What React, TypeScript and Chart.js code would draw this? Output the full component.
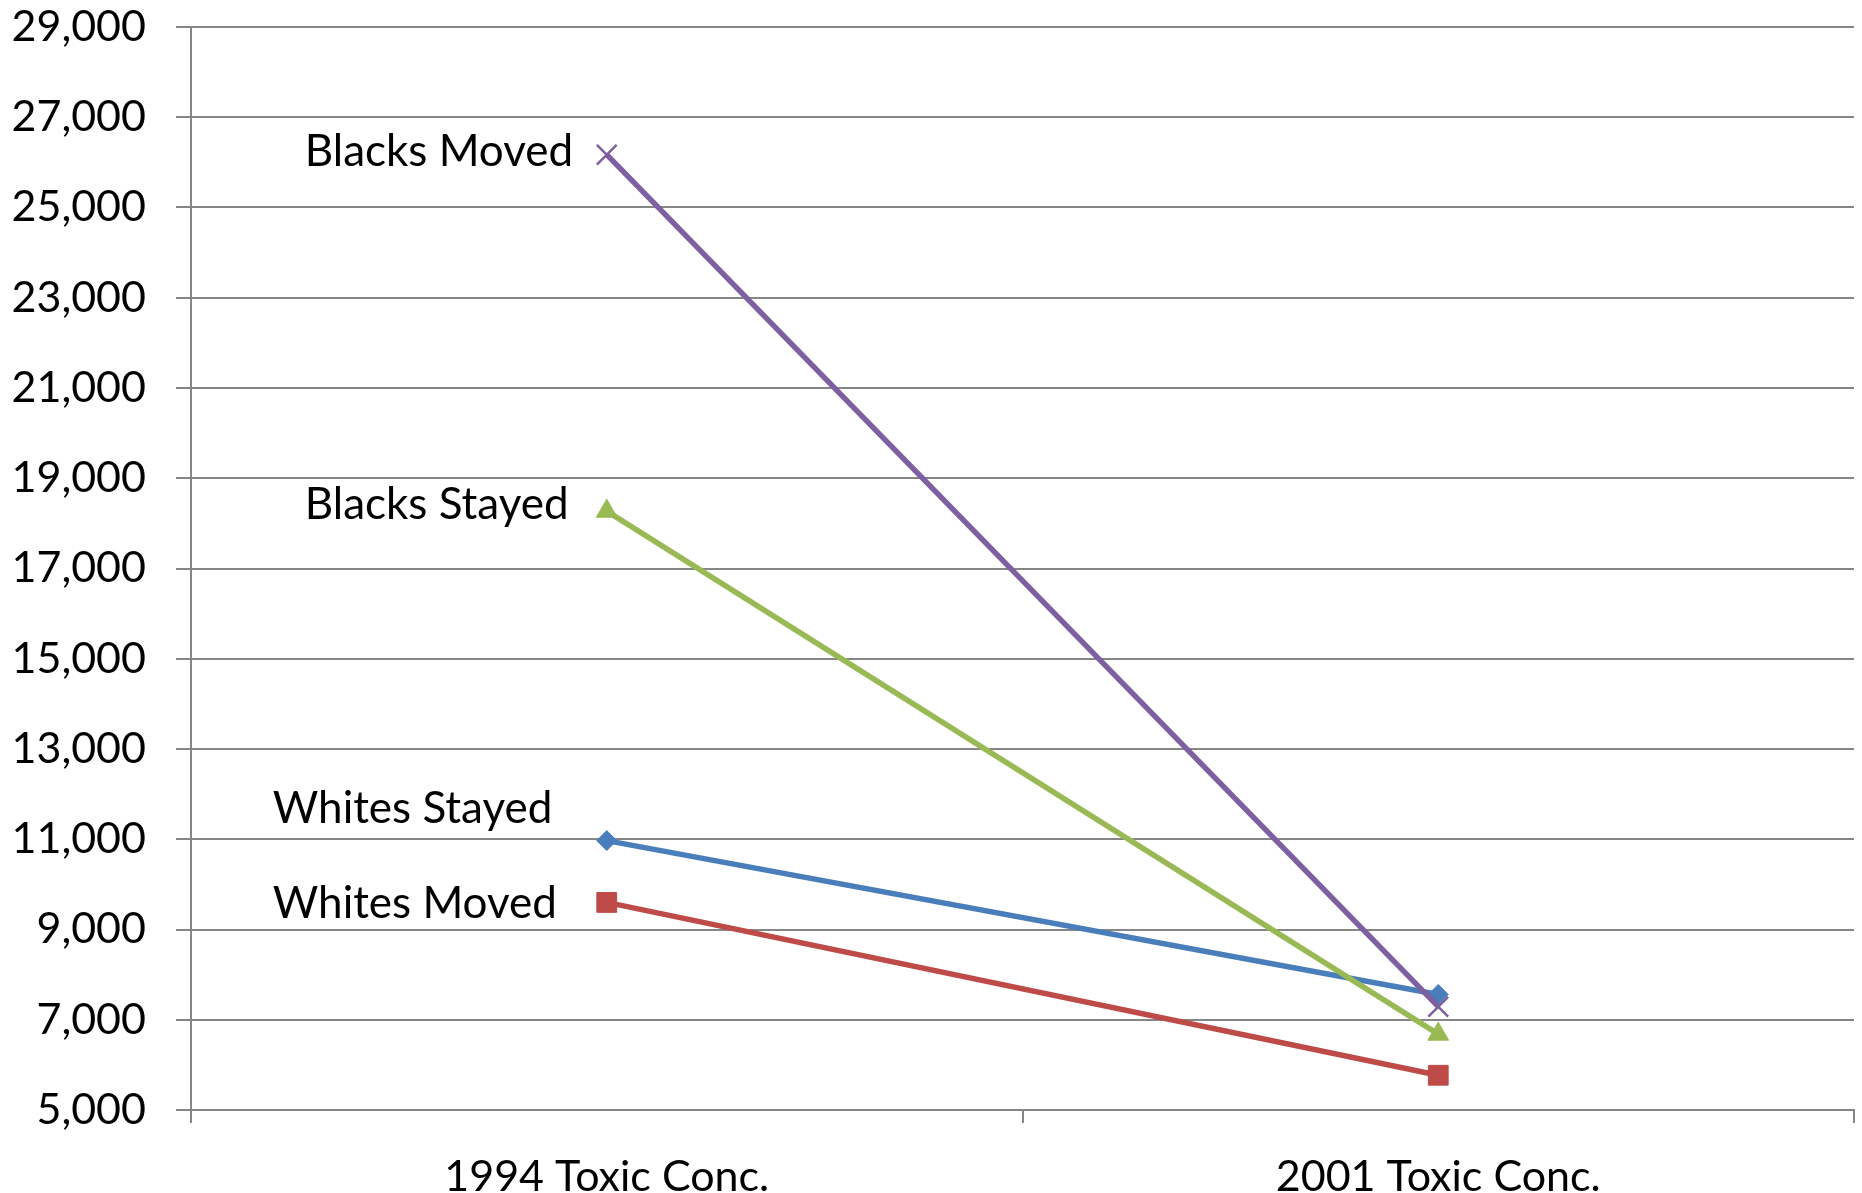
import React, { useEffect, useRef } from "react";
import { Chart, registerables } from "chart.js";

Chart.register(...registerables);

const categories = ["1994 Toxic Conc.", "2001 Toxic Conc."];
const seriesNames = ["Whites Stayed", "Whites Moved", "Blacks Stayed", "Blacks Moved"];
const whitesStayed = [10970, 7560];
const whitesMoved = [9600, 5770];
const blacksStayed = [18270, 6680];
const blacksMoved = [26170, 7290];
const yMin = 5000;
const yMax = 29000;
const yStep = 2000;

const FONT = "Lato";
const GRID = "#868686";

// styling (not data)
const colors = ["#4A7EBB", "#BE4B48", "#98B954", "#7D60A0"];
const markers = ["rectRot", "rect", "triangle", "crossRot"];
const markerRadius = [10, 14, 12, 14];
const drawOrder = [3, 2, 1, 0];
const labelOffsets = [
  { dx: -334, dy: -18 },
  { dx: -334, dy: 16 },
  { dx: -302, dy: 8 },
  { dx: -302, dy: 11 },
];

const seriesLabelPlugin = {
  id: "seriesLabels",
  afterDatasetsDraw(chart: any) {
    const ctx = chart.ctx;
    ctx.save();
    ctx.font = `44px ${FONT}`;
    ctx.fillStyle = "#000";
    ctx.textAlign = "left";
    ctx.textBaseline = "alphabetic";
    chart.data.datasets.forEach((ds: any, i: number) => {
      const meta = chart.getDatasetMeta(i);
      const pt = meta.data[0];
      if (!pt) return;
      const off = labelOffsets[i];
      ctx.fillText(ds.label, pt.x + off.dx, pt.y + off.dy);
    });
    ctx.restore();
  },
};

export default function App() {
  const ref = useRef<HTMLCanvasElement>(null);
  useEffect(() => {
    document.body.style.margin = "0";
    const values = [whitesStayed, whitesMoved, blacksStayed, blacksMoved];
    const chart = new Chart(ref.current as HTMLCanvasElement, {
      type: "line",
      data: {
        labels: categories,
        datasets: seriesNames.map((name, i) => ({
          label: name,
          data: values[i],
          borderColor: colors[i],
          backgroundColor: colors[i],
          borderWidth: 5.5,
          pointStyle: markers[i] as any,
          pointRadius: markerRadius[i],
          pointBorderWidth: markers[i] === "crossRot" ? 2.5 : 1,
          pointBorderColor: colors[i],
          pointBackgroundColor: colors[i],
          order: drawOrder[i],
          tension: 0,
        })),
      },
      options: {
        animation: false,
        responsive: false,
        devicePixelRatio: 1,
        layout: { autoPadding: false, padding: { top: 27, right: 8, left: 0, bottom: 0 } },
        plugins: {
          legend: { display: false },
          tooltip: { enabled: false },
        },
        scales: {
          x: {
            type: "category",
            offset: true,
            grid: {
              offset: true,
              drawOnChartArea: false,
              drawTicks: true,
              tickLength: 13,
              color: GRID,
              lineWidth: 2,
            },
            border: { display: true, color: GRID, width: 2 },
            ticks: {
              color: "#000",
              font: { family: FONT, size: 43 },
              padding: 28,
              maxRotation: 0,
            },
            afterFit: (s: any) => {
              s.height = 83;
              s.paddingLeft = 0;
              s.paddingRight = 0;
            },
          },
          y: {
            min: yMin,
            max: yMax,
            grid: {
              color: GRID,
              lineWidth: 2,
              drawTicks: true,
              tickLength: 15,
            },
            border: { display: true, color: GRID, width: 2 },
            ticks: {
              stepSize: yStep,
              color: "#000",
              font: { family: FONT, size: 43 },
              padding: 30,
              callback: (v: any) => Number(v).toLocaleString("en-US"),
            },
            afterFit: (s: any) => {
              s.width = 191;
              s.paddingTop = 0;
              s.paddingBottom = 0;
            },
          },
        },
      },
      plugins: [seriesLabelPlugin],
    });
    return () => chart.destroy();
  }, []);
  return (
    <div style={{ width: 1862, height: 1193, background: "#fff" }}>
      <canvas ref={ref} width={1862} height={1193} style={{ display: "block" }} />
    </div>
  );
}
